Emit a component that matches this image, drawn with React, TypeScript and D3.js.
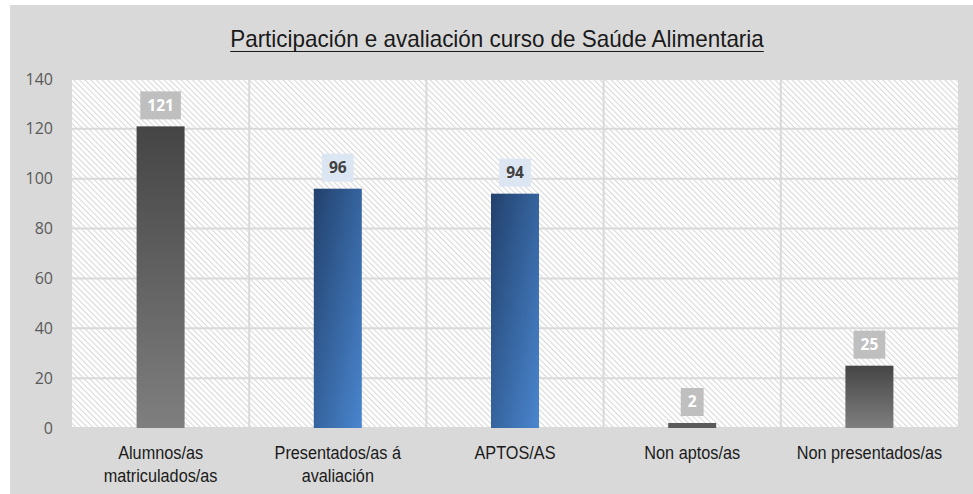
import React, { useRef, useEffect } from "react";
import * as d3 from "d3";

const categories = [
  ["Alumnos/as", "matriculados/as"],
  ["Presentados/as á", "avaliación"],
  ["APTOS/AS"],
  ["Non aptos/as"],
  ["Non presentados/as"],
];
const values = [121, 96, 94, 2, 25];
const barKinds = ["gray", "blue", "blue", "dark", "gray"];
const yTicks = [0, 20, 40, 60, 80, 100, 120, 140];
const title = "Participación e avaliación curso de Saúde Alimentaria";

const W = 973;
const H = 494;
const sans = "'Liberation Sans', Arial, sans-serif";
const numFont = "'Open Sans', sans-serif";

export default function App() {
  const svgRef = useRef<SVGSVGElement | null>(null);

  useEffect(() => {
    const svg = d3.select(svgRef.current);
    svg.selectAll("*").remove();

    const margin = { top: 79, right: 15, bottom: 66, left: 72 };
    const width = W - margin.left - margin.right;
    const height = H - margin.top - margin.bottom;

    const defs = svg.append("defs");
    const pat = defs.append("pattern")
      .attr("id", "hatch")
      .attr("width", 4)
      .attr("height", 4)
      .attr("patternUnits", "userSpaceOnUse")
      .attr("patternTransform", "rotate(-45)");
    pat.append("rect").attr("width", 4).attr("height", 4).attr("fill", "#ffffff");
    pat.append("line")
      .attr("x1", 0).attr("y1", 0).attr("x2", 0).attr("y2", 4)
      .attr("stroke", "#d9d9d9").attr("stroke-width", 2.2);

    const gGray = defs.append("linearGradient").attr("id", "gradGray")
      .attr("x1", 0).attr("y1", 0).attr("x2", 0).attr("y2", 1);
    gGray.append("stop").attr("offset", "0%").attr("stop-color", "#454545");
    gGray.append("stop").attr("offset", "100%").attr("stop-color", "#7f7f7f");

    const gBlue = defs.append("linearGradient").attr("id", "gradBlue")
      .attr("x1", 0).attr("y1", 0).attr("x2", 1).attr("y2", 1);
    gBlue.append("stop").attr("offset", "0%").attr("stop-color", "#22416d");
    gBlue.append("stop").attr("offset", "100%").attr("stop-color", "#4a86cf");

    // background
    svg.append("rect")
      .attr("x", 10).attr("y", 5)
      .attr("width", W - 10).attr("height", H - 5)
      .attr("fill", "#d9d9d9");

    // title (slightly condensed)
    const tScale = 0.935;
    const t = svg.append("text")
      .attr("transform", "translate(497,47) scale(" + tScale + ",1)")
      .attr("text-anchor", "middle")
      .attr("font-family", sans)
      .attr("font-size", 24)
      .attr("fill", "#1a1a1a")
      .text(title);
    const tw = (t.node() as SVGTextElement).getComputedTextLength() * tScale;
    svg.append("line")
      .attr("x1", 497 - tw / 2).attr("x2", 497 + tw / 2)
      .attr("y1", 51.5).attr("y2", 51.5)
      .attr("stroke", "#1a1a1a").attr("stroke-width", 1.2);

    const g = svg.append("g")
      .attr("transform", "translate(" + margin.left + "," + margin.top + ")");

    const x = d3.scaleBand<number>()
      .domain(d3.range(values.length))
      .range([0, width]);
    const y = d3.scaleLinear().domain([0, 140]).range([height, 0]);

    g.append("rect")
      .attr("width", width).attr("height", height)
      .attr("fill", "url(#hatch)");

    // grid
    g.selectAll(".hgrid").data(yTicks).enter().append("line")
      .attr("x1", 0).attr("x2", width)
      .attr("y1", d => y(d)).attr("y2", d => y(d))
      .attr("stroke", "#d9d9d9").attr("stroke-width", 2);
    g.selectAll(".vgrid").data(d3.range(1, values.length)).enter().append("line")
      .attr("x1", d => x(d)!).attr("x2", d => x(d)!)
      .attr("y1", 0).attr("y2", height)
      .attr("stroke", "#d9d9d9").attr("stroke-width", 2);

    // y labels
    g.selectAll(".ylab").data(yTicks).enter().append("text")
      .attr("x", -19).attr("y", d => y(d))
      .attr("dy", "0.35em")
      .attr("text-anchor", "end")
      .attr("font-family", numFont)
      .attr("font-size", 16)
      .attr("fill", "#595959")
      .text(d => d);

    const bw = 48;
    const fillFor = (k: string) => k === "blue" ? "url(#gradBlue)" : k === "gray" ? "url(#gradGray)" : "#595959";

    values.forEach((v, i) => {
      const cx = x(i)! + x.bandwidth() / 2;
      g.append("rect")
        .attr("x", cx - bw / 2).attr("y", y(v))
        .attr("width", bw).attr("height", height - y(v))
        .attr("fill", fillFor(barKinds[i]));

      const blue = barKinds[i] === "blue";
      const box = g.append("rect")
        .attr("fill", blue ? "#dce6f2" : "#bfbfbf");
      const lab = g.append("text")
        .attr("x", cx).attr("y", y(v) - 21)
        .attr("dy", "0.35em")
        .attr("text-anchor", "middle")
        .attr("font-family", numFont)
        .attr("font-weight", "bold")
        .attr("font-size", 15.5)
        .attr("fill", blue ? "#404040" : "#ffffff")
        .text(v);
      const lw = (lab.node() as SVGTextElement).getComputedTextLength();
      box.attr("x", cx - lw / 2 - 7).attr("width", lw + 14)
        .attr("y", y(v) - 35).attr("height", 28);

      categories[i].forEach((line, j) => {
        g.append("text")
          .attr("transform", "translate(" + cx + "," + (height + 31 + j * 23) + ") scale(0.93,1)")
          .attr("text-anchor", "middle")
          .attr("font-family", sans)
          .attr("font-size", 17.5)
          .attr("fill", "#1a1a1a")
          .text(line);
      });
    });
  }, []);

  return (
    <svg ref={svgRef} width={W} height={H}
      style={{ position: "absolute", left: 0, top: 0 }} />
  );
}
